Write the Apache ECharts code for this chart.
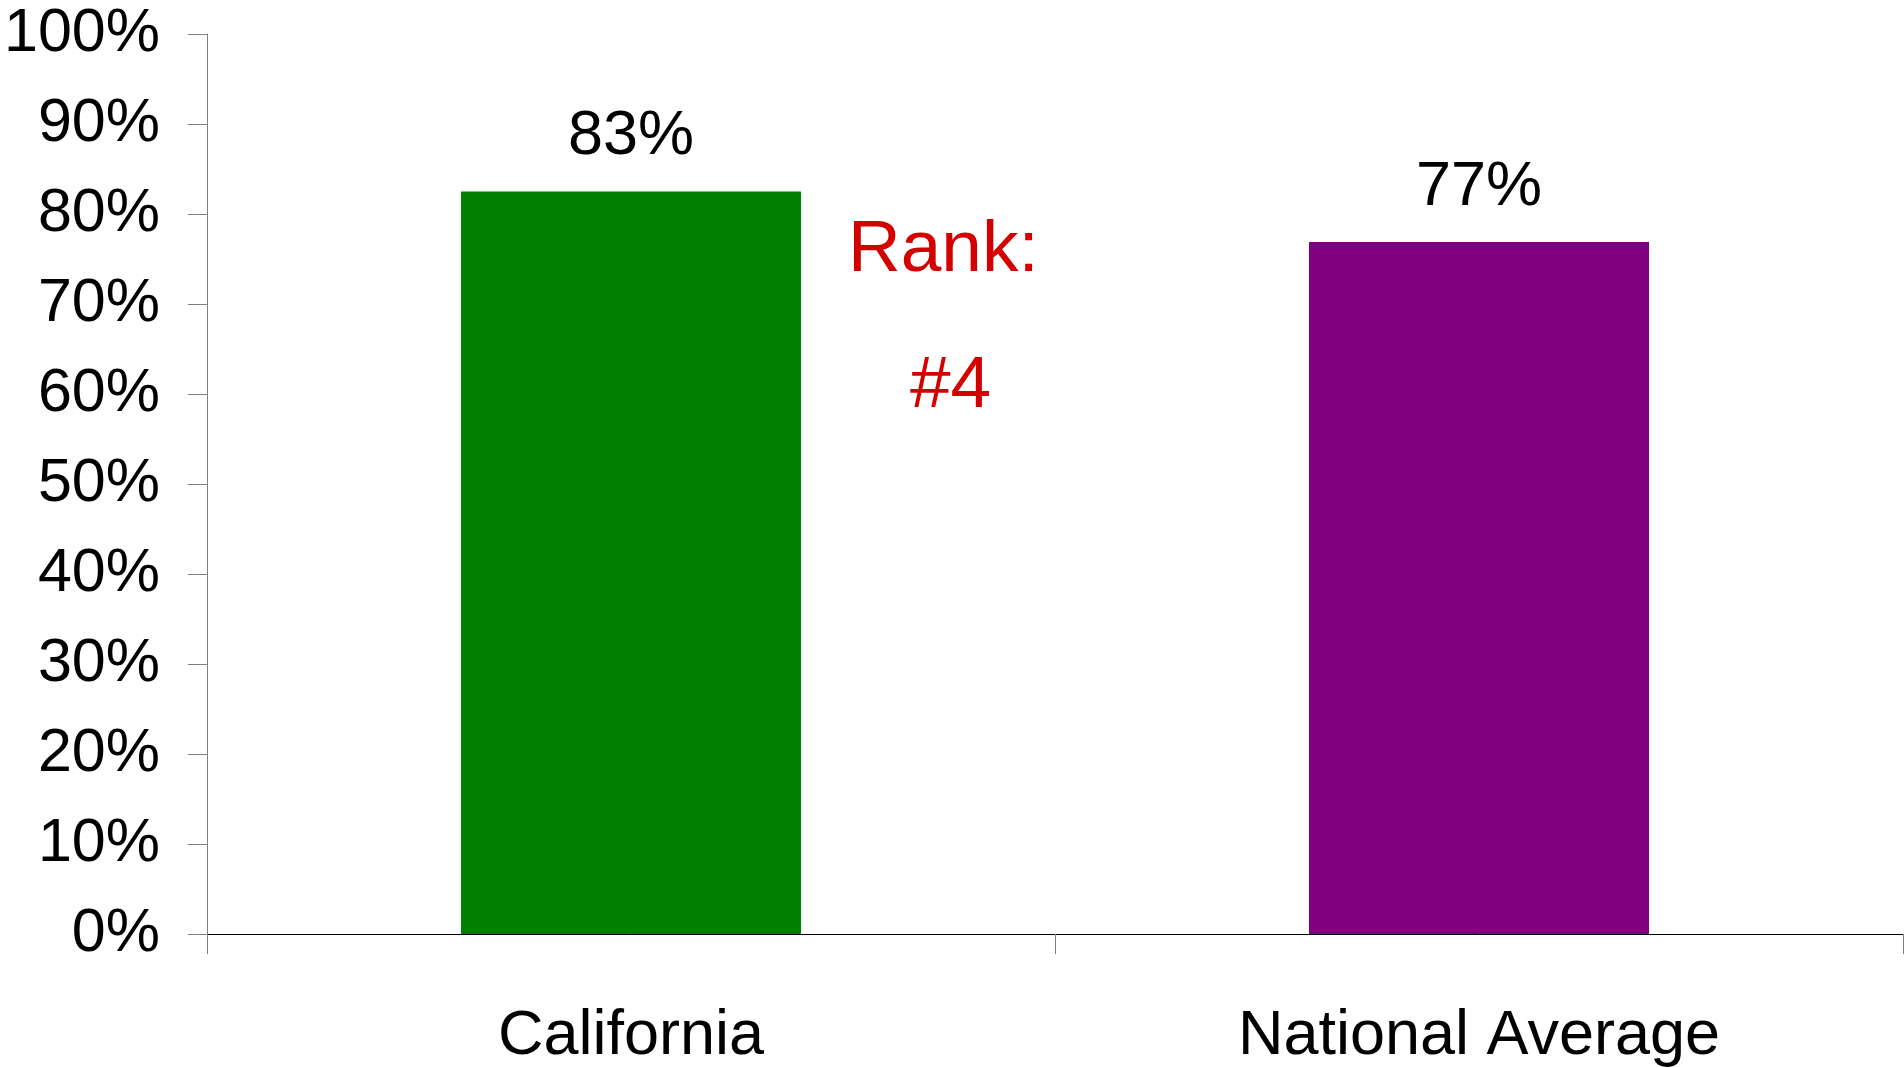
<!DOCTYPE html>
<html>
<head>
<meta charset="utf-8">
<script src="https://cdn.jsdelivr.net/npm/echarts@6/dist/echarts.min.js"></script>
<style>
html,body{margin:0;padding:0;background:#fff;}
#chart{width:1904px;height:1068px;}
</style>
</head>
<body>
<div id="chart"></div>
<script>
const categories = ['California', 'National Average'];
const values = [82.5, 76.9];
const barColors = ['#008000', '#800080'];
const valueLabels = ['83%', '77%'];
const rankText = ['Rank:', '#4'];
const yTicks = { min: 0, max: 100, interval: 10 };

const FONT = '"Liberation Sans", Arial, Helvetica, sans-serif';
const chart = echarts.init(document.getElementById('chart'));
const option = {
  animation: false,
  backgroundColor: '#ffffff',
  grid: { left: 207, right: 1, top: 34, bottom: 131, containLabel: false },
  xAxis: {
    type: 'category',
    data: categories,
    axisLine: { lineStyle: { color: '#000', width: 1 } },
    axisTick: { show: true, length: 20, lineStyle: { color: '#808080', width: 1 } },
    axisLabel: { color: '#000', fontSize: 63, fontFamily: FONT, margin: 71 }
  },
  yAxis: {
    type: 'value',
    min: yTicks.min, max: yTicks.max, interval: yTicks.interval,
    splitLine: { show: false },
    axisLine: { show: true, lineStyle: { color: '#808080', width: 1 } },
    axisTick: { show: true, length: 19, lineStyle: { color: '#808080', width: 1 } },
    axisLabel: { color: '#000', fontSize: 61, fontFamily: FONT, margin: 47, formatter: '{value}%' }
  },
  series: [{
    type: 'bar',
    barWidth: 340,
    data: values.map((v, i) => ({ value: v, itemStyle: { color: barColors[i] } })),
    label: {
      show: true, position: 'top', distance: 23,
      color: '#000', fontSize: 63, fontFamily: FONT,
      formatter: p => valueLabels[p.dataIndex]
    }
  }],
  graphic: [
    { type: 'text', left: 848, top: 214, style: { text: rankText[0], fill: '#D40000', font: '73px ' + FONT } },
    { type: 'text', left: 910, top: 350, style: { text: rankText[1], fill: '#D40000', font: '73px ' + FONT } }
  ]
};
chart.setOption(option);
</script>
</body>
</html>
